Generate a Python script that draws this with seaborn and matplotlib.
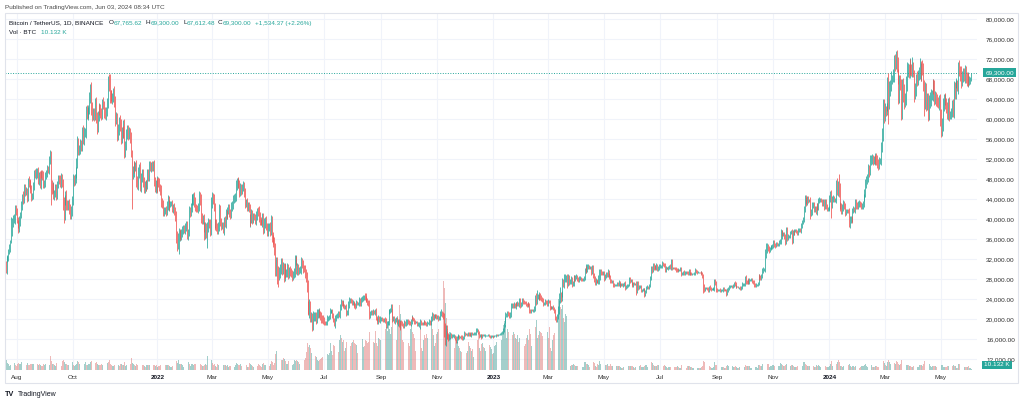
import numpy as np
import pandas as pd
import matplotlib
matplotlib.use("Agg")
import matplotlib.pyplot as plt
import matplotlib.transforms as mtransforms
from matplotlib.patches import Rectangle
import seaborn as sns

# ---------------- data (daily, from 2021-07-20) ----------------
# closes in hundreds of USDT
close_2021 = [
    298,321,323,336,343,354,373,394,400,400,422,415,
    399,392,381,397,409,428,446,438,463,456,456,444,478,471,470,459,447,447,468,493,489,493,495,477,489,469,491,489,488,470,472,
    488,493,500,499,518,527,469,461,464,448,452,461,449,471,481,478,473,483,473,430,407,436,449,428,427,432,422,410,415,438,
    481,477,482,492,515,553,538,539,550,547,575,560,574,574,617,609,615,620,643,660,622,607,613,609,631,603,585,606,623,619,613,
    610,632,629,614,610,615,633,675,669,649,648,642,644,655,636,601,604,569,581,597,587,563,576,572,589,536,548,573,578,570,
    572,565,536,492,494,506,505,506,476,471,494,501,467,483,489,476,462,468,467,469,490,486,508,504,508,507,507,475,465,471,462,
]
close_2022 = [
    477,473,464,458,434,431,416,418,419,418,427,439,426,431,431,431,422,424,417,407,365,351,363,367,369,368,372,377,382,379,385,
    387,369,373,416,414,424,438,440,444,435,424,422,421,425,446,439,405,399,401,384,370,383,373,383,392,391,377,432,
    444,440,425,391,394,384,379,387,419,394,387,388,378,397,393,411,409,418,422,413,410,424,429,440,443,445,468,471,474,471,455,
    463,458,464,466,455,432,434,423,428,422,395,401,411,399,406,404,397,408,415,414,405,397,395,394,404,381,392,397,386,376,
    385,385,377,397,366,360,355,341,301,310,291,290,293,301,313,299,304,287,303,292,294,303,291,297,295,292,286,290,295,317,318,
    298,304,297,299,299,314,311,302,301,291,284,266,225,221,226,204,205,190,206,206,207,200,211,212,215,210,207,203,201,199,
    193,192,193,202,202,205,216,216,216,208,199,193,202,206,208,212,208,224,234,232,232,227,225,226,213,213,229,238,238,236,233,
    233,230,228,226,233,232,232,238,232,239,240,244,244,243,241,239,233,232,208,212,215,214,215,214,216,203,200,196,203,198,201,
    201,200,198,200,198,188,193,193,214,216,218,224,202,202,197,198,201,194,195,189,185,194,193,189,188,192,191,194,196,194,
    193,191,196,203,202,199,195,194,194,191,191,192,194,192,191,193,195,193,191,190,192,192,196,193,201,208,203,206,208,206,205,
    205,202,202,211,213,209,206,185,159,180,171,168,163,166,169,167,167,167,167,163,158,162,166,166,165,165,164,162,164,172,
    170,171,169,171,170,171,168,172,171,171,171,172,178,178,174,166,168,167,164,169,168,168,168,168,168,169,167,165,166,166,165,
]
close_2023 = [
    166,167,167,169,168,169,169,171,172,174,179,188,199,209,209,212,211,207,211,227,228,227,229,226,231,230,231,230,237,228,231,
    237,235,234,233,229,228,232,229,218,216,219,218,218,222,243,235,246,246,243,248,244,242,239,232,232,236,235,231,
    236,235,224,223,224,224,222,217,204,202,206,221,241,247,244,250,274,270,280,282,282,273,283,275,275,280,271,273,283,280,285,
    285,282,278,282,282,280,279,280,283,297,302,299,304,305,303,303,294,304,288,282,273,278,276,275,283,284,295,293,292,292,
    281,287,290,288,295,289,284,277,276,276,269,268,268,269,272,270,274,268,269,271,268,269,272,263,265,267,269,281,277,277,272,
    268,272,271,271,257,272,263,265,265,258,259,259,259,251,256,263,265,263,268,283,300,299,307,305,305,303,307,301,304,305,
    306,306,312,310,308,299,303,303,302,304,306,304,315,303,303,302,301,299,298,299,298,299,301,292,292,294,292,293,294,293,292,
    297,292,292,291,291,291,292,298,296,294,294,294,293,294,292,287,266,261,262,262,261,259,264,262,260,260,261,261,277,273,259,
    258,259,260,258,258,258,262,259,259,258,252,258,262,265,266,266,265,268,272,271,266,266,266,263,263,262,264,270,270,270,
    280,275,274,278,274,279,279,280,276,274,269,268,269,269,272,285,284,283,287,297,300,300,330,339,345,342,339,341,345,345,347,
    354,349,347,351,350,350,354,356,367,373,371,371,365,355,379,362,366,366,374,375,358,374,373,377,378,375,372,378,379,377,
    387,395,399,420,441,438,433,442,437,438,412,415,429,430,419,423,414,427,423,437,439,439,437,430,436,425,435,426,421,422,423,
]
close_2024 = [
    442,450,428,442,442,439,439,470,461,466,463,428,428,417,425,431,427,413,416,417,416,395,399,401,399,418,421,420,433,429,426,
    431,432,430,426,427,431,443,453,471,478,483,500,497,518,519,521,517,521,518,523,519,513,507,516,517,545,571,625,612,
    624,620,631,683,638,661,669,683,685,690,721,715,731,714,695,653,684,676,619,679,655,638,640,672,699,699,695,708,700,696,713,
    697,655,660,685,678,689,694,716,691,706,700,671,639,657,634,638,613,635,638,649,649,668,664,643,645,638,634,631,638,606,
    583,591,629,639,640,632,623,612,631,608,608,615,629,616,662,652,670,670,663,714,701,691,679,685,693,685,694,684,676,684,675,
    678,678,693,
]
first_open = 308

# upper / lower wick lengths beyond the body, hundreds of USDT
wick_up_2021 = [
    9,6,5,4,7,5,32,9,8,10,6,7,
    8,5,7,9,6,8,5,10,7,8,9,6,5,8,7,10,9,6,7,5,8,9,7,10,6,8,5,7,9,8,6,
    7,5,8,6,9,12,10,9,11,8,7,9,10,6,8,7,10,9,8,7,14,12,8,9,10,7,8,9,11,8,
    10,8,9,12,7,13,10,9,11,8,9,14,10,8,9,12,10,8,11,10,15,12,9,10,11,14,12,10,9,8,11,
    10,9,12,8,11,10,9,12,16,21,10,11,9,8,12,10,11,9,10,8,12,14,9,11,10,12,9,8,11,10,
    12,10,9,3,12,11,10,8,12,10,11,9,14,10,12,11,9,8,10,9,11,10,8,9,7,8,10,12,9,8,11,
]
wick_dn_2021 = [
    5,8,6,7,5,9,2,7,9,8,10,6,
    7,9,8,6,10,7,9,8,6,9,7,10,8,6,9,7,11,8,6,9,7,8,10,6,9,7,8,6,9,7,8,
    8,7,9,6,8,7,40,10,9,8,10,7,11,9,8,7,9,10,8,12,15,9,8,10,9,8,11,9,10,8,
    9,11,8,10,9,12,10,9,8,11,10,9,12,10,11,9,10,12,9,11,13,10,9,12,11,10,14,10,9,11,10,
    11,10,9,12,10,11,9,10,12,17,11,10,12,9,11,14,10,12,11,13,10,12,11,10,9,14,11,10,12,11,
    10,12,11,72,11,10,12,9,11,10,12,11,10,12,9,11,10,9,11,10,8,9,10,8,9,10,11,9,10,12,9,
]
wick_up_2022 = [
    9,8,10,7,11,9,8,7,6,8,9,10,8,7,6,5,8,7,9,8,10,12,9,15,10,11,8,9,7,6,8,
    9,10,7,11,8,9,12,10,9,11,10,7,6,8,10,9,11,8,7,9,10,12,9,11,10,8,9,12,
    10,9,11,8,7,6,9,8,12,10,9,6,7,8,9,10,8,7,9,8,7,10,8,9,8,7,11,10,9,10,8,
    9,8,7,10,9,8,7,9,6,7,8,9,10,8,7,6,7,9,8,10,12,9,7,6,8,9,10,8,9,7,
    8,7,9,12,10,9,8,10,12,14,15,16,12,10,9,10,11,9,10,8,7,9,8,7,9,8,7,6,8,12,10,
    9,8,7,6,7,10,9,8,7,8,9,10,12,11,14,10,9,8,10,9,8,7,9,8,7,6,7,8,6,7,
    5,4,3,6,5,4,6,5,3,4,5,4,6,5,4,5,4,7,6,5,6,5,4,3,5,6,7,6,5,4,5,
    5,4,5,4,5,4,3,6,5,6,7,5,4,8,6,5,4,5,6,4,3,4,5,4,5,6,4,3,5,4,5,
    4,3,2,3,4,5,4,3,6,5,4,6,7,5,4,5,4,3,5,6,7,5,4,3,4,6,5,7,5,4,
    4,3,4,5,4,3,4,3,2,3,4,3,6,5,3,2,3,4,3,4,5,3,4,3,5,6,5,4,3,3,4,
    4,3,4,5,7,4,5,6,8,9,8,6,5,4,5,4,3,4,3,2,3,4,3,4,3,2,3,4,3,5,
    3,2,2,3,3,2,3,2,2,2,3,2,5,4,3,3,2,2,3,2,2,2,2,1,1,2,2,2,2,2,2,
]
wick_dn_2022 = [
    8,9,7,10,9,8,10,9,8,12,9,8,7,9,6,5,7,9,8,10,12,15,10,30,11,10,9,8,7,6,8,
    8,9,10,7,9,8,10,9,11,10,8,7,6,9,8,10,12,9,8,10,11,9,10,30,9,8,10,9,
    9,10,8,12,9,7,8,9,10,8,9,7,6,9,8,10,9,8,7,8,9,7,8,9,7,8,9,10,8,9,10,
    8,9,7,8,10,9,8,7,6,7,9,10,8,9,6,5,7,8,9,7,10,8,6,5,9,10,8,9,8,9,
    9,8,10,8,12,9,10,12,15,14,20,25,12,10,11,10,9,12,10,9,8,9,10,8,9,8,9,7,8,10,9,
    8,9,8,7,6,9,8,10,7,9,10,12,15,12,18,10,9,14,11,9,10,9,8,9,7,8,9,10,8,9,
    5,4,3,5,6,4,5,4,3,5,4,6,10,5,4,5,4,5,6,5,6,4,5,4,6,5,4,6,5,4,5,
    5,4,6,5,4,3,4,5,6,5,4,3,5,4,6,5,4,6,7,5,3,6,5,4,6,5,4,5,6,4,5,
    5,4,3,4,5,6,5,4,5,4,3,4,7,6,5,6,4,3,7,5,6,5,4,3,5,6,5,4,5,4,
    4,3,4,5,4,3,4,3,2,4,5,6,12,4,3,2,3,4,3,4,3,2,3,4,5,4,5,4,3,3,4,
    4,5,4,3,4,5,6,20,10,12,10,8,6,5,6,5,4,3,4,5,6,5,4,3,4,3,4,3,4,4,
    3,2,3,2,3,3,2,3,2,2,2,3,3,4,3,3,2,3,3,2,2,2,3,2,1,2,2,3,2,2,2,
]
wick_up_2023 = [
    1,2,2,2,1,2,1,2,2,3,3,4,5,6,4,4,5,3,4,6,5,4,5,4,4,3,5,4,6,5,4,
    5,6,4,3,3,4,3,2,3,3,2,2,3,4,6,10,12,5,4,7,5,4,3,4,3,4,3,3,
    4,3,3,2,3,3,4,3,3,3,4,5,12,10,8,6,8,7,10,8,6,9,7,6,5,6,5,4,6,5,4,
    5,4,3,4,4,3,2,2,4,6,8,5,6,5,4,3,3,4,5,4,5,4,3,3,5,10,6,5,3,4,
    4,3,4,4,5,3,3,4,3,2,3,3,2,2,3,3,4,3,3,2,2,3,3,4,3,3,2,3,3,3,3,
    3,3,2,2,6,5,4,3,3,4,2,3,3,4,3,4,3,2,3,4,7,6,6,5,3,4,5,4,3,5,
    4,3,4,3,3,5,4,2,2,3,3,4,6,5,2,2,3,3,3,3,2,2,3,4,3,3,4,3,2,2,3,
    4,3,3,2,2,1,2,4,3,3,2,1,1,2,2,3,4,4,3,2,2,3,3,4,2,2,1,3,4,3,4,
    3,2,1,2,2,2,3,2,1,1,3,4,3,3,3,2,2,3,3,4,3,2,1,1,2,3,3,4,3,2,
    6,8,4,3,4,3,2,2,3,3,4,3,3,2,2,5,6,4,4,5,4,3,10,12,8,6,5,3,4,3,4,
    5,4,4,3,3,3,4,4,10,6,5,4,4,5,6,5,4,3,3,4,6,5,4,4,3,3,4,4,3,3,
    5,4,5,6,8,7,6,5,4,3,6,5,6,5,5,4,4,5,5,6,5,4,3,4,4,5,6,5,4,3,4,
]
wick_dn_2023 = [
    1,2,1,2,2,1,1,1,2,2,3,4,4,6,5,4,4,5,4,6,5,4,5,4,5,4,4,3,5,6,4,
    4,5,4,3,3,4,3,3,5,4,3,2,4,4,5,6,5,6,4,5,6,5,4,5,4,3,4,4,
    4,3,5,3,2,3,3,4,6,8,8,6,10,8,9,7,6,5,7,6,8,10,7,6,5,4,6,5,6,5,4,
    4,5,4,4,3,3,2,2,3,4,5,6,5,4,3,3,5,4,6,7,5,4,3,3,5,12,6,5,3,4,
    4,3,5,4,3,4,3,5,4,3,5,4,2,2,3,3,4,3,3,2,2,3,3,5,3,3,2,3,4,3,4,
    3,3,2,2,8,4,5,3,2,4,3,3,3,6,4,4,2,2,3,4,5,6,5,6,4,5,4,5,4,5,
    3,3,4,4,3,5,4,2,2,3,3,4,5,4,2,2,3,4,3,3,2,2,3,5,3,3,4,3,2,2,3,
    4,3,3,2,2,1,2,3,3,4,2,1,1,2,3,4,12,6,4,2,3,4,4,4,3,2,1,3,4,4,5,
    3,2,2,3,3,2,3,2,1,1,5,4,3,3,3,2,2,3,4,4,4,3,1,1,3,3,3,4,4,3,
    4,5,4,4,4,3,2,2,4,3,4,3,3,2,2,4,5,4,4,5,4,3,6,8,7,6,6,4,3,4,4,
    5,4,4,3,3,3,3,4,6,6,5,4,4,6,5,6,4,3,3,4,7,5,4,4,3,3,4,4,3,3,
    5,4,5,5,6,7,6,5,4,3,12,6,6,7,5,5,4,6,5,5,4,4,3,4,4,6,5,6,5,4,4,
]
wick_up_2024 = [
    6,7,8,5,6,4,4,8,12,10,20,9,6,5,6,7,5,6,5,4,4,6,7,5,6,5,6,4,7,8,6,
    6,7,5,4,5,6,7,8,10,8,7,10,9,11,10,9,7,6,8,9,10,9,7,8,6,10,12,15,16,
    8,2,2,2,9,15,10,14,3,10,7,9,5,7,10,5,5,5,5,2,3,15,12,14,15,13,12,15,12,10,12,
    1,1,12,5,12,10,11,7,1,6,12,12,8,18,16,14,15,13,16,12,10,13,12,14,11,10,12,10,11,12,
    14,12,13,11,10,12,10,11,12,13,8,7,10,12,14,12,13,9,8,1,5,5,15,12,10,9,14,12,11,10,9,
    8,7,0,
]
wick_dn_2024 = [
    6,7,25,6,7,5,4,7,12,15,18,12,8,7,6,8,7,6,5,4,4,10,12,6,6,5,6,5,7,8,6,
    6,7,5,5,5,6,6,7,8,9,7,8,12,9,10,9,8,6,7,9,10,10,8,7,6,8,10,14,20,
    16,14,12,15,40,18,15,13,12,10,16,18,15,20,25,22,20,18,20,18,20,17,14,12,15,14,13,12,11,10,12,
    12,20,14,13,12,10,11,14,15,14,12,15,30,18,17,15,16,14,12,11,10,12,13,14,12,11,10,9,12,20,
    18,16,14,12,10,11,10,12,14,12,8,7,10,12,13,12,11,8,7,12,15,14,16,12,10,9,12,11,10,12,9,
    7,8,2,
]

# volume in thousand BTC
vol_2021 = [
    88,95,62,52,40,45,150,105,70,62,66,50,
    40,58,62,55,60,70,65,48,72,56,52,48,66,45,42,55,58,52,55,60,40,35,50,55,45,58,48,35,40,55,50,
    60,52,56,40,42,50,125,80,55,58,50,38,62,55,50,45,48,40,38,85,95,70,55,60,42,45,52,55,50,58,
    75,50,40,48,52,80,70,55,40,45,60,62,58,55,75,50,45,52,60,70,80,65,45,40,52,62,70,55,48,42,50,
    52,50,55,50,45,35,38,62,70,88,58,50,38,35,48,62,55,70,52,42,38,58,55,48,45,72,40,45,52,48,
    45,40,52,115,62,58,45,40,52,48,38,35,60,50,52,42,45,35,30,42,48,45,50,38,28,30,38,42,45,40,42,
]
vol_2022 = [
    30,35,38,42,62,58,55,40,35,48,45,50,42,38,30,28,38,36,40,52,90,85,62,88,55,60,58,45,30,32,40,
    42,48,38,75,55,38,52,55,50,60,55,38,32,45,52,40,55,48,35,38,48,52,45,125,70,45,40,80,
    95,68,50,60,35,28,55,50,65,45,40,28,30,42,45,48,38,42,32,35,40,42,45,48,40,30,45,62,52,45,48,
    52,40,32,45,42,55,40,42,28,30,62,55,45,38,30,28,32,45,50,40,55,45,35,25,55,62,48,50,42,35,
    40,38,35,55,80,72,45,65,150,180,210,230,140,90,80,95,90,110,105,85,60,55,80,75,85,90,80,50,55,95,85,
    90,80,75,55,50,85,95,70,55,90,110,170,250,210,230,200,160,240,180,170,140,130,120,90,80,90,100,110,120,130,
    130,80,60,120,150,140,160,250,180,140,230,220,280,300,220,180,170,280,320,300,260,280,180,200,260,240,310,330,300,220,250,
    260,280,250,240,230,160,150,240,260,320,330,290,210,220,280,270,250,260,350,330,200,300,280,260,250,360,250,220,300,290,280,
    300,280,180,160,260,380,400,360,450,380,330,400,560,480,420,430,300,280,500,450,600,520,420,280,260,420,500,520,480,440,
    250,220,380,420,350,330,300,180,150,300,330,350,480,400,200,180,280,320,300,330,300,220,240,280,380,450,380,320,220,250,330,
    350,380,320,400,280,280,330,820,760,620,480,380,320,350,300,260,260,240,180,200,300,280,260,220,200,180,170,240,220,280,
    250,220,160,180,260,220,200,180,190,120,130,250,320,300,280,340,200,180,240,250,210,200,180,130,110,200,220,230,210,190,150,
]
vol_2023 = [
    160,220,230,260,220,260,180,220,320,280,330,420,450,420,300,380,350,360,330,400,380,320,350,330,300,290,320,260,300,380,330,
    380,400,350,220,240,300,320,280,380,330,220,220,310,360,420,400,460,300,320,360,350,340,310,360,220,260,300,300,
    350,300,400,200,180,280,320,340,520,620,480,500,660,640,580,560,600,480,440,520,500,60,75,50,35,40,50,48,52,45,40,
    35,40,45,38,42,40,30,25,32,70,75,55,58,50,30,35,50,65,95,70,65,40,30,55,50,85,60,35,30,35,
    45,50,45,48,52,38,35,55,40,38,55,50,25,22,35,38,40,35,30,22,20,30,35,40,35,30,22,40,38,35,38,
    35,30,22,25,55,60,45,38,35,50,28,32,30,40,50,42,28,25,35,60,80,70,65,48,35,40,38,42,45,55,
    30,25,40,35,38,45,40,25,20,28,30,32,60,55,25,22,30,32,30,35,30,20,22,45,32,30,35,30,20,22,35,
    40,35,30,30,22,18,25,40,38,30,22,18,15,22,30,35,80,75,40,25,30,38,40,38,28,20,18,30,70,45,48,
    40,25,20,28,30,32,30,25,15,18,40,45,35,30,28,20,18,35,30,28,40,25,15,18,25,28,35,38,30,22,
    30,50,40,35,38,35,20,22,40,38,40,35,32,25,22,50,45,35,40,60,45,35,85,110,75,60,55,32,35,40,42,
    45,40,38,30,28,32,35,40,65,60,45,40,40,45,60,50,45,25,28,40,48,45,35,30,25,28,35,38,30,32,
    40,30,35,70,75,55,45,40,35,38,80,50,45,40,35,28,30,42,40,45,38,30,25,30,25,35,40,38,32,25,28,
]
vol_2024 = [
    35,55,80,40,42,28,25,55,60,70,90,75,40,35,30,38,35,40,42,28,25,45,55,40,32,40,35,30,38,35,32,
    38,35,22,25,35,35,38,45,55,35,30,48,45,40,45,42,28,25,32,38,35,30,32,28,22,45,70,110,85,
    65,45,35,70,95,70,55,50,42,35,70,65,60,85,75,60,45,55,90,75,60,55,35,40,50,45,42,40,38,25,30,
    40,55,40,45,40,28,30,50,45,48,40,55,80,70,52,48,55,50,60,35,28,40,38,35,38,32,28,25,30,48,
    60,45,42,30,25,28,32,35,35,40,20,18,32,38,48,40,35,22,20,60,55,40,48,35,25,20,30,32,28,25,35,
    18,15,10.132,
]

# notable extremes (hundreds of USDT)
high_dates = ["2021-07-26","2021-09-07","2021-10-20","2021-11-10","2022-03-28",
              "2022-08-15","2022-09-13","2022-11-05","2023-03-14","2023-04-14",
              "2023-04-26","2023-07-13","2023-08-29","2023-10-24","2023-11-09","2024-01-11",
              "2024-02-28","2024-03-05","2024-03-14","2024-04-08","2024-05-21"]
high_vals = [405,529,670,690,482,252,228,215,265,310,300,318,281,352,380,490,640,692,738,723,719]
low_dates = ["2021-07-20","2021-09-21","2022-01-24","2022-02-24","2022-05-12",
             "2022-06-18","2022-11-09","2023-03-10","2023-08-17","2023-09-11",
             "2024-01-23","2024-03-05","2024-03-19","2024-04-13","2024-05-01"]
low_vals = [293,396,330,343,267,176,156,195,252,249,385,590,608,606,565]

price_ticks = list(range(12000, 80001, 4000))
time_labels = ["Aug", "Oct", "2022", "Mar", "May", "Jul", "Sep", "Nov", "2023",
               "Mar", "May", "Jul", "Sep", "Nov", "2024", "Mar", "May"]
time_dates = ["2021-08-01", "2021-10-01", "2022-01-01", "2022-03-01", "2022-05-01",
              "2022-07-01", "2022-09-01", "2022-11-01", "2023-01-01", "2023-03-01",
              "2023-05-01", "2023-07-01", "2023-09-01", "2023-11-01", "2024-01-01",
              "2024-03-01", "2024-05-01"]
last_price = 69300.0
last_vol_text = "10.132 K"

# ---------------- build table ----------------
close = np.array(close_2021 + close_2022 + close_2023 + close_2024, float) * 100
vol = np.array(vol_2021 + vol_2022 + vol_2023 + vol_2024, float) * 1000
wup = np.array(wick_up_2021 + wick_up_2022 + wick_up_2023 + wick_up_2024, float) * 100
wdn = np.array(wick_dn_2021 + wick_dn_2022 + wick_dn_2023 + wick_dn_2024, float) * 100
assert len(vol) == len(close) == len(wup) == len(wdn), (len(close), len(vol), len(wup), len(wdn))
dates = pd.date_range("2021-07-20", periods=len(close), freq="D")
dstr = list(dates.strftime("%Y-%m-%d"))
pos = {d: i for i, d in enumerate(dstr)}
openp = np.concatenate([[first_open * 100.0], close[:-1]])
high = np.maximum(openp, close) + wup
low = np.minimum(openp, close) - wdn
for d, v in zip(high_dates, high_vals):
    high[pos[d]] = max(high[pos[d]], v * 100)
for d, v in zip(low_dates, low_vals):
    low[pos[d]] = min(low[pos[d]], v * 100)
idx = np.arange(len(close))
up = close >= openp
df = pd.DataFrame({"i": idx, "vol": vol, "dir": np.where(up, "up", "down")})

UP = "#26a69a"
DN = "#ef5350"

# ---------------- figure ----------------
sns.set_style("white")
plt.rcParams["font.family"] = ["Liberation Sans", "DejaVu Sans"]

W, H = 1024, 404
fig = plt.figure(figsize=(W / 100, H / 100), dpi=100)
fig.patch.set_facecolor("white")

def fx(x):
    return x / W

def fy(y):
    return 1 - y / H

L, R, T, B = 5, 977, 13, 370
rect = [fx(L), fy(B), (R - L) / W, (B - T) / H]
XMIN, XMAX = -0.65, 1055.3
YMIN, YMAX = 9860, 81260

axv = fig.add_axes(rect)
ax = fig.add_axes(rect, sharex=axv)
ax.patch.set_alpha(0)

# grid (behind everything)
for p in price_ticks:
    f = (p - YMIN) / (YMAX - YMIN)
    axv.plot([0, 1], [f, f], transform=axv.transAxes, color="#f0f3fa", lw=0.8, zorder=0)
for d in time_dates:
    axv.axvline(pos[d], color="#f0f3fa", lw=0.8, zorder=0)

# volume
sns.barplot(data=df, x="i", y="vol", hue="dir", hue_order=["up", "down"],
            palette={"up": UP, "down": DN}, native_scale=True, dodge=False,
            errorbar=None, width=0.7, alpha=0.45, linewidth=0, legend=False, ax=axv)
axv.set_ylim(0, 3300e3)
axv.set_xlim(XMIN, XMAX)
axv.axis("off")

# candles
ax.vlines(idx[up], low[up], high[up], colors=UP, linewidth=0.7, alpha=0.8, zorder=3)
ax.vlines(idx[~up], low[~up], high[~up], colors=DN, linewidth=0.7, alpha=0.8, zorder=3)
ax.axhline(last_price, color=UP, lw=0.7, ls=(0, (1, 1.6)), zorder=2)
ax.set_xlim(XMIN, XMAX)
ax.set_ylim(YMIN, YMAX)
ax.axis("off")

# frame
fig.patches.append(Rectangle((fx(5), fy(383)), (1018 - 5) / W, (383 - 13) / H,
                             transform=fig.transFigure, fill=False,
                             edgecolor="#e0e3eb", lw=0.8))

FS = 4.6
# price scale labels
ytrans = mtransforms.blended_transform_factory(fig.transFigure, ax.transData)
for p in price_ticks:
    fig.text(fx(986), p, f"{p:,.2f}", transform=ytrans, ha="left", va="center",
             fontsize=FS, color="#2e2e2e")
fig.text(fx(999.5), last_price, f"{last_price:,.2f}", transform=ytrans, ha="center",
         va="center", fontsize=FS, color="white", zorder=10,
         bbox=dict(boxstyle="square,pad=0.3", fc=UP, ec="none"))
fig.text(fx(997), fy(365), last_vol_text, ha="center", va="center", fontsize=FS,
         color="white", zorder=10, bbox=dict(boxstyle="square,pad=0.3", fc=UP, ec="none"))

# time scale labels
xtrans = mtransforms.blended_transform_factory(ax.transData, fig.transFigure)
for lab, d in zip(time_labels, time_dates):
    bold = lab.isdigit()
    fig.text(pos[d], fy(377.5), lab, transform=xtrans, ha="center", va="center",
             fontsize=FS, color="#131722" if bold else "#2e2e2e",
             fontweight="bold" if bold else "normal")

# header and legend
fig.text(fx(5), fy(7.3), "Published on TradingView.com, Jun 03, 2024 08:34 UTC",
         ha="left", va="center", fontsize=FS, color="#4a4a4a")
fig.text(fx(9.3), fy(23), "Bitcoin / TetherUS, 1D, BINANCE", ha="left", va="center",
         fontsize=FS, color="#131722")
legend_items = [(109, "O", "67,765.62"), (146, "H", "69,300.00"),
                (183, "L", "67,612.48"), (218, "C", "69,300.00")]
letter_w = {"O": 4.9, "H": 4.6, "L": 3.6, "C": 4.6}
for x, letter, val in legend_items:
    fig.text(fx(x), fy(23), letter, ha="left", va="center", fontsize=FS, color="#131722")
    fig.text(fx(x + letter_w[letter]), fy(23), val, ha="left", va="center",
             fontsize=FS, color=UP)
fig.text(fx(255), fy(23), "+1,534.37 (+2.26%)", ha="left", va="center",
         fontsize=FS, color=UP)
fig.text(fx(9.3), fy(32.7), "Vol · BTC", ha="left", va="center", fontsize=FS,
         color="#131722")
fig.text(fx(41), fy(32.7), last_vol_text, ha="left", va="center", fontsize=FS, color=UP)

# footer logo
fig.text(fx(5), fy(394), "TV", ha="left", va="center", fontsize=5.2,
         fontweight="bold", color="#131722")
fig.text(fx(17.5), fy(394), "TradingView", ha="left", va="center", fontsize=5.0,
         color="#131722")

fig.savefig("out.png", dpi=100, facecolor="white")
